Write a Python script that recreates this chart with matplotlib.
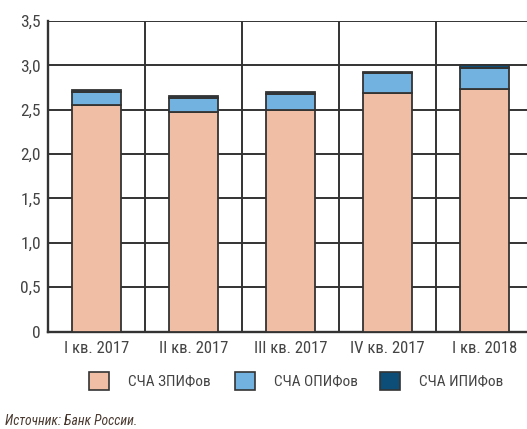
import matplotlib
matplotlib.use("Agg")
import matplotlib.pyplot as plt
from matplotlib.patches import Rectangle
import numpy as np

plt.rcParams['font.family'] = ['Roboto Condensed', 'Liberation Sans', 'DejaVu Sans']

quarters = ["I кв. 2017", "II кв. 2017", "III кв. 2017", "IV кв. 2017", "I кв. 2018"]
zpif = [2.55, 2.47, 2.50, 2.69, 2.73]
opif = [0.15, 0.16, 0.18, 0.22, 0.24]
ipif = [0.02, 0.02, 0.02, 0.02, 0.03]
series_names = ["СЧА ЗПИФов", "СЧА ОПИФов", "СЧА ИПИФов"]
colors = ["#F0BEA4", "#72B2E0", "#0D4E78"]
yticks = [0, 0.5, 1.0, 1.5, 2.0, 2.5, 3.0, 3.5]
ytick_labels = ["0", "0,5", "1,0", "1,5", "2,0", "2,5", "3,0", "3,5"]

W, H = 527, 429
fig = plt.figure(figsize=(W / 100, H / 100), dpi=100)
ax = fig.add_axes([48 / W, (H - 331.5) / H, 485 / W, 310.5 / H])

x = np.arange(len(quarters))
edge = "#333333"
grid_c = "#333333"

# grid: horizontal at each tick, vertical between categories
for y in yticks:
    ax.axhline(y, color=grid_c, lw=1.4, zorder=1)
for b in np.arange(0.5, len(quarters), 1.0):
    ax.axvline(b, color=grid_c, lw=1.4, zorder=1)

bottom = np.zeros(len(quarters))
for vals, col in zip([zpif, opif, ipif], colors):
    ax.bar(x, vals, width=0.5, bottom=bottom, color=col, edgecolor=edge,
           linewidth=1.3, zorder=3)
    bottom += np.array(vals)

ax.set_xlim(-0.5, len(quarters) - 0.5)
ax.set_ylim(0, 3.5)
ax.set_yticks(yticks)
ax.set_yticklabels(ytick_labels)
ax.set_xticks(x)
ax.set_xticklabels(quarters)
ax.tick_params(axis="x", length=0, labelsize=12, colors="#444444", pad=7)
ax.tick_params(axis="y", length=0, labelsize=12.5, colors="#444444", pad=5)
for s in ["top", "right"]:
    ax.spines[s].set_visible(False)
for s in ["left", "bottom"]:
    ax.spines[s].set_color(grid_c)
    ax.spines[s].set_linewidth(1.7)

# legend row
leg_y = (H - 390) / H
sq_w, sq_h = 20 / W, 18 / H
for i, (name, col) in enumerate(zip(series_names, colors)):
    x0 = (89 + i * 145.5) / W
    fig.patches.append(Rectangle((x0, leg_y), sq_w, sq_h, transform=fig.transFigure,
                                 facecolor=col, edgecolor=edge, linewidth=1.2))
    fig.text(x0 + 39 / W, leg_y + sq_h / 2, name, ha="left", va="center",
             fontsize=11, color="#444444")

fig.text(5 / W, (H - 421) / H, "Источник: Банк России.", ha="left", va="center",
         fontsize=9.8, style="italic", color="#4a3a30")

fig.savefig("out.png", dpi=100)
